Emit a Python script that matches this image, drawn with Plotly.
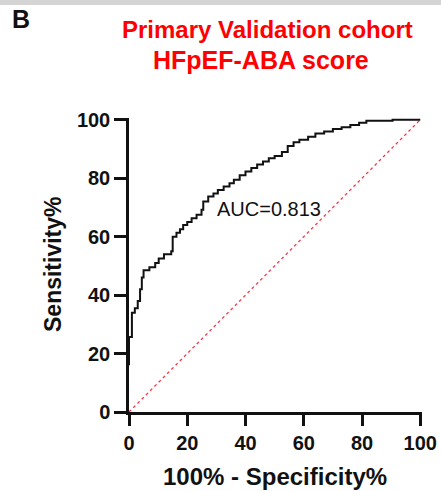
import plotly.graph_objects as go

# ROC curve (100% - Specificity%, Sensitivity%)
fpr = [0, 0, 1.0, 1.0, 2.0, 2.0, 3.0, 3.0, 3.8, 3.8, 4.4, 4.4, 5.0, 5.0, 7.0, 7.0,
       9.0, 9.0, 10.2, 10.2, 12.0, 12.0, 14.5, 14.5, 15.0, 15.0, 16.3, 16.3, 17.5, 17.5,
       18.6, 18.6, 20.0, 20.0, 21.5, 21.5, 23.2, 23.2, 24.9, 24.9, 25.5, 25.5, 27.2, 27.2,
       29.0, 29.0, 30.5, 30.5, 32.5, 32.5, 34.5, 34.5, 36.0, 36.0, 38.0, 38.0, 40.0, 40.0,
       42.0, 42.0, 44.0, 44.0, 46.0, 46.0, 48.0, 48.0, 50.0, 50.0, 52.5, 52.5, 54.5, 54.5,
       56.5, 56.5, 58.5, 58.5, 61.5, 61.5, 64.0, 64.0, 67.0, 67.0, 70.0, 70.0, 73.0, 73.0,
       76.0, 76.0, 79.0, 79.0, 81.5, 81.5, 90.5, 90.5, 100]
tpr = [16, 25.7, 25.7, 34, 34, 35.5, 35.5, 38, 38, 42, 42, 46, 46, 48.5, 48.5, 49.5,
       49.5, 51, 51, 52.5, 52.5, 54, 54, 55, 55, 60, 60, 61.3, 61.3, 62.5,
       62.5, 64, 64, 65, 65, 66.3, 66.3, 67.5, 67.5, 69.2, 69.2, 72, 72, 73.7,
       73.7, 74.8, 74.8, 76, 76, 77.2, 77.2, 78.3, 78.3, 79.5, 79.5, 81, 81, 82.3,
       82.3, 83.5, 83.5, 84.7, 84.7, 85.7, 85.7, 86.8, 86.8, 87.6, 87.6, 89, 89, 91,
       91, 92.3, 92.3, 93.2, 93.2, 94.2, 94.2, 95.3, 95.3, 96, 96, 96.8, 96.8, 97.4,
       97.4, 98.2, 98.2, 99, 99, 99.7, 99.7, 100, 100]
ref_x = [0, 100]
ref_y = [0, 100]
tick_vals = [0, 20, 40, 60, 80, 100]
auc_text = "AUC=0.813"
title_lines = ["Primary Validation cohort", "HFpEF-ABA score"]
x_title = "100% - Specificity%"
y_title = "Sensitivity%"
panel_label = "B"

FONT = "Liberation Sans, Arial, sans-serif"

fig = go.Figure()
fig.add_trace(go.Scatter(x=ref_x, y=ref_y, mode="lines",
                         line=dict(color="#ff3344", width=1.3, dash="dot"),
                         hoverinfo="skip", showlegend=False))
fig.add_trace(go.Scatter(x=fpr, y=tpr, mode="lines",
                         line=dict(color="#111111", width=2, shape="linear"),
                         showlegend=False))

axis_common = dict(
    showgrid=False, zeroline=False, showline=True, linecolor="#111111", linewidth=2.5,
    ticks="outside", tickwidth=2.5, tickcolor="#111111", automargin=False,
    tickvals=tick_vals, ticktext=[str(v) for v in tick_vals],
    tickfont=dict(family=FONT, size=20, color="#111111", weight="bold"),
)
fig.update_xaxes(range=[0, 100.6], ticklen=11, **axis_common)
fig.update_yaxes(range=[0, 100.6], ticklen=12, **axis_common)

L, T, W, H = 129, 118, 293, 294  # plot area in px

def px_x(p):
    return (p - L) / W

def px_y(p):
    return (T + H - p) / H

ann = []
ann.append(dict(x=29.5, y=69.5, xref="x", yref="y", text=auc_text, showarrow=False,
                xanchor="left", yanchor="middle",
                font=dict(family=FONT, size=20, color="#111111")))
ann.append(dict(x=px_x(267), y=px_y(30), xref="paper", yref="paper", text=title_lines[0],
                showarrow=False, xanchor="center", yanchor="middle",
                font=dict(family=FONT, size=24, color="#ff0000", weight="bold")))
ann.append(dict(x=px_x(261), y=px_y(60), xref="paper", yref="paper", text=title_lines[1],
                showarrow=False, xanchor="center", yanchor="middle",
                font=dict(family=FONT, size=25, color="#ff0000", weight="bold")))
ann.append(dict(x=px_x(10), y=px_y(19), xref="paper", yref="paper", text=panel_label,
                showarrow=False, xanchor="left", yanchor="middle",
                font=dict(family=FONT, size=25, color="#111111", weight="bold")))
ann.append(dict(x=px_x(275), y=px_y(476), xref="paper", yref="paper", text=x_title,
                showarrow=False, xanchor="center", yanchor="middle",
                font=dict(family=FONT, size=24, color="#111111", weight="bold")))
ann.append(dict(x=px_x(53), y=px_y(264), xref="paper", yref="paper", text=y_title,
                showarrow=False, xanchor="center", yanchor="middle", textangle=-90,
                font=dict(family=FONT, size=23, color="#111111", weight="bold")))

shapes = [dict(type="rect", xref="paper", yref="paper", x0=px_x(0), x1=px_x(441),
               y0=px_y(5), y1=px_y(0), fillcolor="#d4d4d4", line=dict(width=0),
               layer="below")]

fig.update_layout(
    width=441, height=491,
    margin=dict(l=L, r=441 - L - W, t=T, b=491 - T - H, pad=0, autoexpand=False),
    paper_bgcolor="white", plot_bgcolor="white",
    annotations=ann, shapes=shapes,
    font=dict(family=FONT, color="#111111"),
)

fig.write_html("out.html")
